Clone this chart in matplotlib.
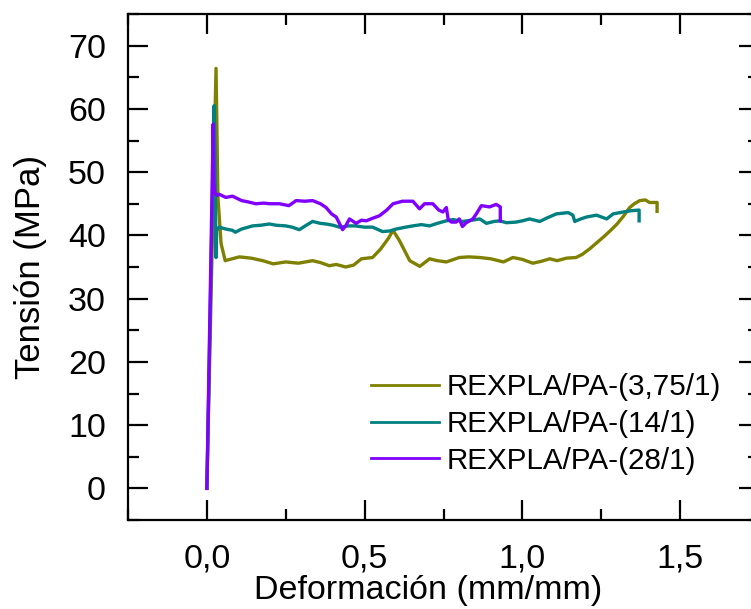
import matplotlib
matplotlib.use("Agg")
import matplotlib.pyplot as plt
from matplotlib.ticker import MultipleLocator, FixedLocator, FixedFormatter

plt.rcParams['font.family'] = ['Liberation Sans', 'DejaVu Sans']

# Data
strain_375 = [0, 0.029, 0.035, 0.045, 0.058, 0.08, 0.103, 0.14, 0.177, 0.21, 0.25, 0.29,
              0.335, 0.36, 0.388, 0.41, 0.44, 0.465, 0.49, 0.525, 0.55, 0.575, 0.59, 0.61,
              0.643, 0.675, 0.706, 0.73, 0.759, 0.8, 0.83, 0.865, 0.9, 0.94, 0.97, 1.0,
              1.033, 1.06, 1.087, 1.11, 1.14, 1.17, 1.19, 1.214, 1.235, 1.256, 1.28, 1.30,
              1.32, 1.34, 1.355, 1.372, 1.39, 1.403, 1.427, 1.427]
stress_375 = [0, 66.4, 46, 38.7, 36.0, 36.3, 36.6, 36.4, 36.0, 35.5, 35.8, 35.6,
              36.0, 35.7, 35.2, 35.4, 35.0, 35.3, 36.3, 36.5, 37.8, 39.5, 40.8, 39.2,
              36.0, 35.1, 36.3, 36.0, 35.8, 36.5, 36.6, 36.5, 36.3, 35.8, 36.5, 36.2,
              35.6, 35.9, 36.3, 36.0, 36.4, 36.5, 37.0, 37.9, 38.8, 39.7, 40.8, 41.8,
              43.0, 44.4, 45.0, 45.5, 45.6, 45.2, 45.2, 43.8]

strain_14 = [0, 0.023, 0.026, 0.029, 0.031, 0.039, 0.06, 0.081, 0.09, 0.11, 0.145, 0.17,
             0.198, 0.22, 0.25, 0.27, 0.293, 0.315, 0.335, 0.36, 0.378, 0.40, 0.42, 0.45,
             0.47, 0.50, 0.525, 0.557, 0.58, 0.60, 0.63, 0.653, 0.68, 0.706, 0.73, 0.759,
             0.78, 0.81, 0.84, 0.865, 0.886, 0.91, 0.928, 0.95, 0.98, 1.0, 1.023, 1.055,
             1.08, 1.108, 1.145, 1.16, 1.166, 1.185, 1.203, 1.235, 1.267, 1.288, 1.32,
             1.346, 1.37, 1.37]
stress_14 = [0, 60.5, 50, 36.5, 40.8, 41.3, 41.0, 40.8, 40.5, 41.0, 41.5, 41.6,
             41.8, 41.6, 41.5, 41.3, 40.9, 41.6, 42.2, 41.9, 41.8, 41.6, 41.3, 41.5,
             41.5, 41.3, 41.3, 40.6, 40.7, 41.0, 41.3, 41.5, 41.7, 41.5, 41.9, 42.3,
             42.5, 42.2, 42.4, 42.6, 41.9, 42.2, 42.3, 42.0, 42.1, 42.3, 42.6, 42.2,
             42.8, 43.4, 43.6, 43.2, 42.2, 42.6, 42.9, 43.2, 42.6, 43.4, 43.7,
             43.9, 44.0, 42.3]

strain_28 = [0, 0.02, 0.022, 0.025, 0.032, 0.039, 0.06, 0.081, 0.11, 0.13, 0.155, 0.18,
             0.2, 0.23, 0.26, 0.283, 0.31, 0.335, 0.36, 0.378, 0.395, 0.41, 0.43, 0.44,
             0.452, 0.473, 0.49, 0.505, 0.525, 0.547, 0.57, 0.59, 0.62, 0.653, 0.674,
             0.69, 0.716, 0.735, 0.748, 0.759, 0.765, 0.775, 0.79, 0.80, 0.81, 0.822,
             0.833, 0.843, 0.854, 0.87, 0.896, 0.917, 0.93, 0.93]
stress_28 = [0, 57.6, 48, 46.8, 46.3, 46.5, 46.0, 46.2, 45.5, 45.3, 45.0, 45.1,
             45.0, 45.0, 44.7, 45.5, 45.4, 45.5, 45.0, 44.4, 43.4, 42.9, 40.9, 41.5,
             42.6, 41.9, 42.4, 42.3, 42.7, 43.1, 44.0, 45.0, 45.4, 45.4, 44.2,
             45.0, 45.0, 44.0, 43.7, 44.4, 42.5, 42.1, 42.1, 42.6, 41.4, 42.0,
             42.3, 42.6, 43.4, 44.7, 44.5, 44.9, 44.5, 42.3]

labels = ['REXPLA/PA-(3,75/1)', 'REXPLA/PA-(14/1)', 'REXPLA/PA-(28/1)']
colors = ['#808000', '#008080', '#8000FF']

xticks = [0.0, 0.5, 1.0, 1.5]
xtick_labels = ['0,0', '0,5', '1,0', '1,5']
yticks = [0, 10, 20, 30, 40, 50, 60, 70]
ytick_labels = ['0', '10', '20', '30', '40', '50', '60', '70']

fig = plt.figure(figsize=(7.51, 6.09), dpi=100)
ax = fig.add_axes([128/751, 89/609, 631/751, 506/609])

ax.plot(strain_375, stress_375, color=colors[0], lw=2.4, label=labels[0])
ax.plot(strain_14, stress_14, color=colors[1], lw=2.4, label=labels[1])
ax.plot(strain_28, stress_28, color=colors[2], lw=2.4, label=labels[2])

ax.set_xlim(-0.25, 1.75)
ax.set_ylim(-5, 75)
ax.xaxis.set_major_locator(FixedLocator(xticks))
ax.xaxis.set_major_formatter(FixedFormatter(xtick_labels))
ax.xaxis.set_minor_locator(MultipleLocator(0.25))
ax.yaxis.set_major_locator(FixedLocator(yticks))
ax.yaxis.set_major_formatter(FixedFormatter(ytick_labels))
ax.yaxis.set_minor_locator(MultipleLocator(5))

for s in ax.spines.values():
    s.set_linewidth(1.6)
ax.tick_params(which='both', direction='in', top=True, right=True, width=1.6)
ax.tick_params(which='major', length=14.5, labelsize=24.5)
ax.tick_params(axis='x', which='major', pad=17)
ax.tick_params(axis='y', which='major', pad=16)
ax.tick_params(which='minor', length=8)

ax.set_xlabel('Deformación (mm/mm)', fontsize=24.5)
ax.set_ylabel('Tensión (MPa)', fontsize=25, labelpad=15)
ax.xaxis.set_label_coords((428 - 128)/631, (520 - 575)/506)

leg = ax.legend(loc='upper left', bbox_to_anchor=((371 - 128)/631, 1 - (373 - 14)/506),
                frameon=False, fontsize=21.3, handlelength=2.3, handletextpad=0.25,
                labelspacing=0.3, borderpad=0, borderaxespad=0)
for l in leg.get_lines():
    l.set_linewidth(2.0)

fig.savefig('out.png', dpi=100)
